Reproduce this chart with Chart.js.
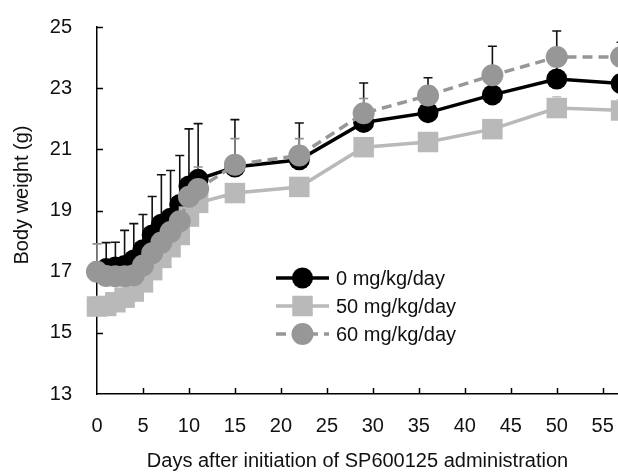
<!DOCTYPE html>
<html><head><meta charset="utf-8">
<script src="https://cdn.jsdelivr.net/npm/chart.js@4/dist/chart.umd.min.js"></script>
<style>html,body{margin:0;padding:0;background:#fff;overflow:hidden}#wrap{width:618px;height:474px;position:relative}</style>
</head><body><div id="wrap"><canvas id="c" width="618" height="474"></canvas></div>
<script>
const days = [0,1,2,3,4,5,6,7,8,9,10,11,15,22,29,36,43,50,57];
const seriesNames = ['0 mg/kg/day','50 mg/kg/day','60 mg/kg/day'];
const weight0  = [17.0,17.1,17.15,17.2,17.38,17.72,18.2,18.55,18.75,19.2,19.8,20.02,20.42,20.66,21.88,22.2,22.78,23.3,23.15];
const weight50 = [15.86,15.88,16.0,16.15,16.35,16.65,17.05,17.45,17.8,18.2,18.8,19.25,19.57,19.77,21.07,21.24,21.66,22.35,22.27];
const weight60 = [17.0,16.86,16.85,16.85,16.88,17.2,17.6,17.95,18.3,18.65,19.45,19.7,20.5,20.8,22.18,22.76,23.42,24.02,24.02];
const sd0  = [0.3,0.85,0.81,1.15,1.19,1.15,1.26,1.62,1.56,1.6,1.87,1.82,1.55,1.2,1.29,1.14,1.59,1.57,1.35];
const sd50 = [0.3,0.3,0.3,0.3,0.3,0.3,0.3,0.3,0.3,0.3,0.3,0.3,0.3,0.3,0.3,0.3,0.3,0.37,0.35];
const sd60 = [0.91,0.3,0.3,0.3,0.3,0.3,0.3,0.3,0.3,0.3,0.32,0.72,0.85,0.55,0.48,0.3,0.3,0.3,0.3];
const xTicks = [0,5,10,15,20,25,30,35,40,45,50,55];
const yTicks = [13,15,17,19,21,23,25];
const xTitle = 'Days after initiation of SP600125 administration';
const yTitle = 'Body weight (g)';

const FONT = '"Liberation Sans", Arial, sans-serif';
const colors = ['#000000', '#b9b9b9', '#979797'];
const barColors = ['#111111', '#c4c4c4', '#8e8e8e'];
const weights = [weight0, weight50, weight60];
const sds = [sd0, sd50, sd60];

const toPts = arr => days.map((d, i) => ({x: d, y: arr[i]}));

const errorBars = {
  id: 'errorBars',
  beforeDatasetsDraw(chart) {
    const ctx = chart.ctx, xs = chart.scales.x, ys = chart.scales.y;
    ctx.save();
    ctx.strokeStyle = '#000'; ctx.lineWidth = 1.5;
    const ca = chart.chartArea;
    yTicks.forEach(v => { if (v === yTicks[0]) return; const y = Math.round(ys.getPixelForValue(v)) + 0.5; ctx.beginPath(); ctx.moveTo(ca.left, y); ctx.lineTo(ca.left + 6, y); ctx.stroke(); });
    xTicks.forEach(v => { if (v === xTicks[0]) return; const x = Math.round(xs.getPixelForValue(v)) + 0.5; ctx.beginPath(); ctx.moveTo(x, ca.bottom); ctx.lineTo(x, ca.bottom - 6); ctx.stroke(); });
    weights.forEach((w, s) => {
      ctx.strokeStyle = barColors[s]; ctx.lineWidth = 1.6;
      days.forEach((d, j) => {
        const x = xs.getPixelForValue(d);
        const yM = ys.getPixelForValue(w[j]);
        const yT = ys.getPixelForValue(w[j] + sds[s][j]);
        ctx.beginPath(); ctx.moveTo(x, yM); ctx.lineTo(x, yT);
        ctx.moveTo(x - 4.5, yT); ctx.lineTo(x + 4.5, yT); ctx.stroke();
      });
    });
    ctx.restore();
  }
};

const textPlugin = {
  id: 'textPlugin',
  afterDraw(chart) {
    const ctx = chart.ctx;
    ctx.save();
    ctx.fillStyle = '#111';
    ctx.font = '20px ' + FONT;
    ctx.textAlign = 'center'; ctx.textBaseline = 'middle';
    ctx.translate(22, 195); ctx.rotate(-Math.PI / 2);
    ctx.fillText(yTitle, 0, 0);
    ctx.restore();
    const x0 = 276, x1 = 329, xm = 302.5, tx = 336, y0 = 278, dy = 28;
    chart.data.datasets.forEach((ds, i) => {
      const y = y0 + i * dy;
      ctx.save();
      ctx.strokeStyle = ds.borderColor; ctx.lineWidth = ds.borderWidth;
      ctx.setLineDash(ds.borderDash || []);
      ctx.beginPath(); ctx.moveTo(x0, y); ctx.lineTo(x1, y); ctx.stroke();
      ctx.setLineDash([]);
      ctx.fillStyle = ds.pointBackgroundColor;
      Chart.helpers.drawPoint(ctx, {pointStyle: ds.pointStyle, radius: ds.pointRadius, borderWidth: 0, rotation: 0}, xm, y);
      ctx.fillStyle = '#111';
      ctx.font = '20px ' + FONT;
      ctx.textBaseline = 'middle'; ctx.textAlign = 'left';
      ctx.fillText(ds.label, tx, y + 1);
      ctx.restore();
    });
  }
};

const mk = (i, style, radius, dash, order) => ({
  label: seriesNames[i], data: toPts(weights[i]),
  borderColor: colors[i], backgroundColor: colors[i],
  pointBackgroundColor: colors[i], pointBorderColor: colors[i], pointBorderWidth: 0,
  pointStyle: style, pointRadius: radius, pointHoverRadius: radius,
  borderWidth: 3.5, borderDash: dash, tension: 0, clip: false, order: order
});

new Chart(document.getElementById('c'), {
  type: 'line',
  data: { datasets: [
    mk(0, 'circle', 10.5, [], 2),
    mk(1, 'rect', 14.5, [], 1),
    mk(2, 'circle', 11, [10, 6], 0)
  ]},
  options: {
    responsive: false, animation: false, devicePixelRatio: 1,
    layout: { autoPadding: false, padding: { top: 27, left: 0, right: 0, bottom: 0 } },
    plugins: { legend: { display: false }, tooltip: { enabled: false } },
    scales: {
      x: {
        type: 'linear', min: 0, max: 56.66,
        afterBuildTicks: s => { s.ticks = xTicks.map(v => ({value: v})); },
        afterFit: s => { s.height = 80; s.paddingLeft = 0; s.paddingRight = 0; },
        ticks: { padding: 0, color: '#111', font: { family: FONT, size: 20 }, maxRotation: 0, autoSkip: false, includeBounds: false },
        grid: { display: true, drawOnChartArea: false, drawTicks: true, tickLength: 20, color: 'rgba(0,0,0,0)' },
        border: { display: true, color: '#000', width: 1.5 },
        title: { display: true, text: xTitle, color: '#111', font: { family: FONT, size: 20 }, padding: { top: 11, bottom: 1 } }
      },
      y: {
        min: 13, max: 25,
        afterBuildTicks: s => { s.ticks = yTicks.map(v => ({value: v})); },
        afterFit: s => { s.width = 97; s.paddingTop = 0; s.paddingBottom = 0; },
        ticks: { padding: 25, color: '#111', font: { family: FONT, size: 20 } },
        grid: { display: false, drawTicks: false },
        border: { display: true, color: '#000', width: 1.5 },
        title: { display: false }
      }
    }
  },
  plugins: [errorBars, textPlugin]
});
</script></body></html>
